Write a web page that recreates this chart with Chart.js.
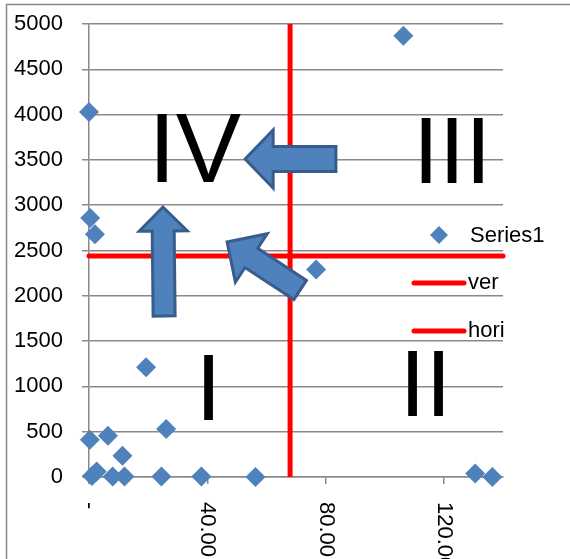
<!DOCTYPE html>
<html>
<head>
<meta charset="utf-8">
<script src="https://cdn.jsdelivr.net/npm/chart.js@4/dist/chart.umd.min.js"></script>
<style>
  html, body { margin: 0; padding: 0; background: #fff; }
  #wrap { width: 570px; height: 559px; position: relative; }
</style>
</head>
<body>
<div id="wrap"><canvas id="quadChart"></canvas></div>
<script>
(function () {
  // Series1 scatter values
  const seriesX = [0, 0.4, 2, 106.3, 76.8, 0.3, 6.4, 11.3, 19.3, 26.1, 1, 2.6, 8, 12, 24.5, 38, 56.3, 130.6, 136.4];
  const seriesY = [4030, 2860, 2680, 4870, 2290, 410, 455, 235, 1210, 530, 10, 60, 5, 5, 5, 5, 0, 40, 0];

  // reference lines
  const verX = [68, 68];
  const verY = [0, 5000];
  const horiX = [0, 140];
  const horiY = [2440, 2440];

  // axes
  const xTickValues = [0, 40, 80, 120];
  const xTickLabels = ["-", "40.00", "80.00", "120.00"];
  const yMin = 0;
  const yMax = 5000;
  const yStep = 500;
  const xMin = 0;
  const xMax = 140;

  // quadrant captions (centre x, baseline y in data units)
  const quadrantNames = ["I", "II", "III", "IV"];
  const quadrantX = [40.4, 113.8, 122.8, 35.8];
  const quadrantY = [629, 673, 3245, 3256];

  // arrows, tail -> tip in data units
  const arrowFromX = [83.5, 25.4, 71.4];
  const arrowFromY = [3510, 1777, 2064];
  const arrowToX = [52.8, 25.0, 46.7];
  const arrowToY = [3510, 2980, 2594];

  const FONT = "'Liberation Sans', Arial, sans-serif";
  const BLUE = "#4F81BD";
  const BLUE_DARK = "#385D8A";
  const GRID = "#898989";

  Chart.defaults.font.family = FONT;
  Chart.defaults.color = "#000";

  function toPoints(xs, ys) {
    return xs.map((x, i) => ({ x, y: ys[i] }));
  }

  function drawArrow(ctx, x1, y1, x2, y2, shaftW, headW, headL) {
    const ang = Math.atan2(y2 - y1, x2 - x1);
    const len = Math.hypot(x2 - x1, y2 - y1);
    ctx.save();
    ctx.translate(x1, y1);
    ctx.rotate(ang);
    ctx.beginPath();
    ctx.moveTo(0, -shaftW / 2);
    ctx.lineTo(len - headL, -shaftW / 2);
    ctx.lineTo(len - headL, -headW / 2);
    ctx.lineTo(len, 0);
    ctx.lineTo(len - headL, headW / 2);
    ctx.lineTo(len - headL, shaftW / 2);
    ctx.lineTo(0, shaftW / 2);
    ctx.closePath();
    ctx.fillStyle = BLUE;
    ctx.fill();
    ctx.lineWidth = 3;
    ctx.lineJoin = "miter";
    ctx.strokeStyle = BLUE_DARK;
    ctx.stroke();
    ctx.restore();
  }

  const arrowSizes = [
    { shaft: 25, head: 58, len: 28 },
    { shaft: 22, head: 48, len: 24 },
    { shaft: 23, head: 58, len: 29 },
  ];
  const quadrantFont = [94, 94, 94, 98];

  const decorations = {
    id: "decorations",
    beforeDraw(chart) {
      const ctx = chart.ctx;
      ctx.save();
      ctx.fillStyle = "#fff";
      ctx.fillRect(0, 0, chart.width, chart.height);
      ctx.strokeStyle = GRID;
      ctx.lineWidth = 1.5;
      ctx.beginPath();
      ctx.moveTo(6.5, chart.height + 5);
      ctx.lineTo(6.5, 4.5);
      ctx.lineTo(chart.width + 5, 4.5);
      ctx.stroke();
      ctx.restore();
    },
    afterDatasetsDraw(chart) {
      const ctx = chart.ctx;
      const xs = chart.scales.x;
      const ys = chart.scales.y;

      // x tick labels, rotated to read downwards
      ctx.save();
      ctx.font = "22px " + FONT;
      ctx.fillStyle = "#000";
      ctx.textAlign = "left";
      ctx.textBaseline = "middle";
      xTickValues.forEach((v, i) => {
        ctx.save();
        ctx.translate(xs.getPixelForValue(v), ys.bottom + 25);
        ctx.rotate(Math.PI / 2);
        ctx.fillText(xTickLabels[i], 0, 0);
        ctx.restore();
      });
      ctx.restore();

      // roman numerals
      ctx.save();
      ctx.fillStyle = "#000";
      ctx.textAlign = "center";
      ctx.textBaseline = "alphabetic";
      quadrantNames.forEach((name, i) => {
        ctx.font = quadrantFont[i] + "px " + FONT;
        ctx.fillText(name, xs.getPixelForValue(quadrantX[i]), ys.getPixelForValue(quadrantY[i]));
      });
      ctx.restore();

      // arrows
      arrowFromX.forEach((fx, i) => {
        drawArrow(
          ctx,
          xs.getPixelForValue(fx),
          ys.getPixelForValue(arrowFromY[i]),
          xs.getPixelForValue(arrowToX[i]),
          ys.getPixelForValue(arrowToY[i]),
          arrowSizes[i].shaft,
          arrowSizes[i].head,
          arrowSizes[i].len
        );
      });
    },
    afterDraw(chart) {
      const ctx = chart.ctx;
      ctx.save();
      ctx.font = "22px " + FONT;
      ctx.fillStyle = "#000";
      ctx.textAlign = "left";
      ctx.textBaseline = "middle";

      // Series1 marker
      const mx = 439;
      const my = 235;
      const r = 9;
      ctx.beginPath();
      ctx.moveTo(mx - r, my);
      ctx.lineTo(mx, my - r);
      ctx.lineTo(mx + r, my);
      ctx.lineTo(mx, my + r);
      ctx.closePath();
      ctx.fillStyle = BLUE;
      ctx.fill();
      ctx.fillStyle = "#000";
      ctx.fillText("Series1", 470, my + 1);

      ctx.strokeStyle = "#FF0000";
      ctx.lineWidth = 5;
      ctx.lineCap = "round";
      [["ver", 283], ["hori", 331]].forEach(([label, ly]) => {
        ctx.beginPath();
        ctx.moveTo(414, ly);
        ctx.lineTo(464, ly);
        ctx.stroke();
        ctx.fillText(label, 468, ly);
      });
      ctx.restore();
    },
  };

  new Chart(document.getElementById("quadChart"), {
    type: "scatter",
    data: {
      datasets: [
        {
          label: "Series1",
          data: toPoints(seriesX, seriesY),
          pointStyle: "rectRot",
          pointRadius: 10,
          pointHoverRadius: 10,
          backgroundColor: BLUE,
          borderColor: BLUE,
          borderWidth: 0,
          clip: false,
          order: 3,
        },
        {
          label: "ver",
          data: toPoints(verX, verY),
          showLine: true,
          borderColor: "#FF0000",
          borderWidth: 5,
          pointRadius: 0,
          clip: false,
          order: 1,
        },
        {
          label: "hori",
          data: toPoints(horiX, horiY),
          showLine: true,
          borderColor: "#FF0000",
          borderWidth: 5,
          borderCapStyle: "round",
          pointRadius: 0,
          clip: false,
          order: 2,
        },
      ],
    },
    options: {
      responsive: true,
      maintainAspectRatio: false,
      animation: false,
      layout: {
        padding: { left: 0, right: 67, top: 24, bottom: 0 },
      },
      plugins: {
        legend: { display: false },
        tooltip: { enabled: false },
      },
      scales: {
        x: {
          type: "linear",
          min: xMin,
          max: xMax,
          afterFit(scale) {
            scale.height = 82;
            scale.paddingLeft = 0;
            scale.paddingRight = 0;
          },
          afterBuildTicks(scale) {
            scale.ticks = xTickValues.map((v) => ({ value: v }));
          },
          ticks: { display: false },
          grid: {
            drawOnChartArea: false,
            drawTicks: true,
            tickLength: 7,
            color: GRID,
            lineWidth: 1.5,
          },
          border: { display: true, color: GRID, width: 1.5 },
        },
        y: {
          type: "linear",
          min: yMin,
          max: yMax,
          afterFit(scale) {
            scale.width = 89;
            scale.paddingTop = 0;
            scale.paddingBottom = 0;
          },
          ticks: {
            stepSize: yStep,
            padding: 19,
            font: { size: 22 },
            color: "#000",
            callback: (value) => String(value),
          },
          grid: {
            color: GRID,
            lineWidth: 1.5,
            tickLength: 7,
          },
          border: { display: true, color: GRID, width: 1.5 },
        },
      },
    },
    plugins: [decorations],
  });
})();
</script>
</body>
</html>
